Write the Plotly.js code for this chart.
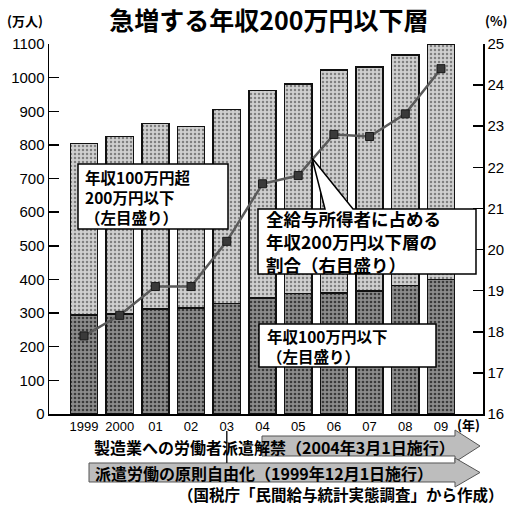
<!DOCTYPE html>
<html><head><meta charset="utf-8">
<script src="https://cdn.plot.ly/plotly-3.0.1.min.js"></script>
<style>html,body{margin:0;padding:0;background:#fff;}#chart{width:511px;height:506px;}</style>
</head><body><div id="chart"></div>
<script>
// ---- data ----
const years = ['1999','2000','01','02','03','04','05','06','07','08','09'];
const under100 = [295, 297, 312, 315, 328, 345, 358, 360, 365, 382, 400];        // 年収100万円以下 (万人)
const over100to200 = [509, 528, 552, 540, 577, 617, 623, 663, 667, 685, 700];    // 年収100万円超200万円以下 (万人)
const sharePct = [17.9, 18.4, 19.1, 19.1, 20.2, 21.6, 21.8, 22.8, 22.75, 23.3, 24.4]; // 割合 (%)
const leftTicks = [0,100,200,300,400,500,600,700,800,900,1000,1100];
const rightTicks = [16,17,18,19,20,21,22,23,24,25];

// ---- layout helpers (pixel -> paper) ----
const W = 511, H = 506;
const P = {l:49, r:483, t:44, b:414};
const fx = x => (x - P.l) / (P.r - P.l);
const fy = y => (P.b - y) / (P.b - P.t);
const JP = '"Noto Sans CJK JP", "Noto Sans", sans-serif';
const LAT = '"Liberation Sans", Arial, sans-serif';

function txt(text, x, y, size, anchor, fam, weight) {
  return {xref:'paper', yref:'paper', x:fx(x), y:fy(y), xanchor:anchor||'left', yanchor:'middle',
    align:'left', showarrow:false, text:text, font:{family:fam||JP, size:size, color:'#000', weight:weight||700}};
}
function pathPx(pts, close) {
  return 'M' + pts.map(p => fx(p[0]).toFixed(5) + ',' + fy(p[1]).toFixed(5)).join(' L') + (close ? ' Z' : '');
}

const traces = [
  {type:'bar', x:years, y:under100, name:'年収100万円以下',
   marker:{color:'#8a8a8a', line:{color:'#111', width:1.5},
     pattern:{shape:'.', bgcolor:'#8c8c8c', fgcolor:'#3a3a3a', size:4, solidity:0.35}},
   hoverinfo:'skip'},
  {type:'bar', x:years, y:over100to200, name:'年収100万円超200万円以下',
   marker:{color:'#c8c8c8', line:{color:'#111', width:1.5},
     pattern:{shape:'.', bgcolor:'#d0d0d0', fgcolor:'#808080', size:4, solidity:0.3}},
   hoverinfo:'skip'},
  {type:'scatter', mode:'lines+markers', x:years, y:sharePct, yaxis:'y2',
   line:{color:'#5a5a5a', width:2.5},
   marker:{symbol:'square', size:8, color:'#3a3a3a', line:{color:'#1a1a1a', width:1}},
   hoverinfo:'skip'}
];

const shapes = [
  // callout boxes
  {type:'rect', xref:'paper', yref:'paper', x0:fx(78), x1:fx(228), y0:fy(229), y1:fy(164),
   fillcolor:'#fff', line:{color:'#000', width:1.5}},
  {type:'path', xref:'paper', yref:'paper',
   path: pathPx([[312,158],[325,209],[258,209],[258,274],[476,274],[476,209],[353,209]], true),
   fillcolor:'#fff', line:{color:'#000', width:1.5}},
  {type:'rect', xref:'paper', yref:'paper', x0:fx(259), x1:fx(436), y0:fy(367), y1:fy(324),
   fillcolor:'#fff', line:{color:'#000', width:1.5}},
  // bottom arrows
  {type:'path', xref:'paper', yref:'paper',
   path: pathPx([[262,436],[455,436],[455,430],[480,446],[455,462],[455,456],[262,456]], true),
   fillcolor:'#bdbdbd', line:{color:'#555', width:1}},
  {type:'path', xref:'paper', yref:'paper',
   path: pathPx([[89,463],[455,463],[455,458],[480,472.5],[455,487],[455,482],[89,482]], true),
   fillcolor:'#bdbdbd', line:{color:'#555', width:1}},
  // reference lines under the x labels
  {type:'line', xref:'x', yref:'paper', x0:years[0], x1:years[0], y0:fy(430), y1:fy(505),
   line:{color:'#222', width:1.5, dash:'dot'}},
  {type:'line', xref:'x', yref:'paper', x0:years[5], x1:years[5], y0:fy(431), y1:fy(463),
   line:{color:'#222', width:1.5}}
];

const annotations = [
  txt('(万人)', 25, 21, 13, 'center'),
  txt('(%)', 496, 21, 13, 'center'),
  txt('(年)', 468, 424, 13, 'center'),
  // box 1
  txt('年収100万円超<br>200万円以下<br>（左目盛り）', 83, 196.5, 15.5),
  // box 2
  txt('全給与所得者に占める<br>年収200万円以下層の<br>割合（右目盛り）', 264, 241.5, 17.5),
  // box 3
  txt('年収100万円以下<br>（左目盛り）', 265, 345.5, 15.5),
  // arrows
  txt('製造業への労働者派遣解禁（2004年3月1日施行）', 92, 447, 16),
  txt('派遣労働の原則自由化（1999年12月1日施行）', 93, 472.5, 16),
  txt('（国税庁「民間給与統計実態調査」から作成）', 506, 494.5, 15.5, 'right')
];

const layout = {
  width:W, height:H,
  margin:{l:P.l, r:W-P.r, t:P.t, b:H-P.b, pad:0},
  paper_bgcolor:'#fff', plot_bgcolor:'#fff',
  barmode:'stack', bargap:0.24, showlegend:false,
  title:{text:'<b>急増する年収200万円以下層</b>', font:{family:JP, size:25, color:'#000'},
    x:269/W, xanchor:'center', y:1-21/H, yanchor:'middle', xref:'container', yref:'container'},
  xaxis:{type:'category', range:[-0.98, 11.177], showline:true, linecolor:'#000', linewidth:1.5,
    ticks:'', showgrid:false, zeroline:false, fixedrange:true,
    tickfont:{family:LAT, size:13, color:'#000'}},
  yaxis:{range:[0,1100], tickvals:leftTicks, ticks:'inside', ticklen:10, tickwidth:1.5, tickcolor:'#000',
    showline:true, linecolor:'#000', linewidth:1.5, showgrid:false, zeroline:false, fixedrange:true,
    tickfont:{family:LAT, size:15, color:'#000'}},
  yaxis2:{overlaying:'y', side:'right', range:[16,25], tickvals:rightTicks, ticks:'inside', ticklen:10,
    tickwidth:1.5, tickcolor:'#000', showline:true, linecolor:'#000', linewidth:1.5, showgrid:false,
    zeroline:false, fixedrange:true, tickfont:{family:LAT, size:15, color:'#000'}},
  shapes:shapes, annotations:annotations
};

Plotly.newPlot('chart', traces, layout, {staticPlot:true, displayModeBar:false});
</script>
</body></html>
